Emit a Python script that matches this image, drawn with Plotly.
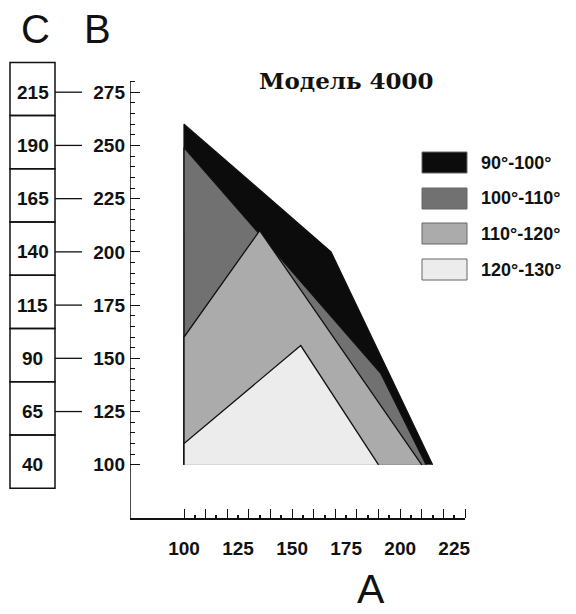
import plotly.graph_objects as go

# ---- data ----
series_names = ["90°-100°", "100°-110°", "110°-120°", "120°-130°"]
series_colors = ["#0c0c0c", "#717171", "#ababab", "#ececec"]
a_black = [100, 100, 168, 215]
b_black = [100, 260, 200, 100]
a_dark = [100, 100, 191, 212]
b_dark = [100, 249, 143, 100]
a_light = [100, 100, 135, 210]
b_light = [100, 160, 210, 100]
a_lightest = [100, 100, 154, 190]
b_lightest = [100, 110, 156, 100]

b_ticks = [100, 125, 150, 175, 200, 225, 250, 275]
c_ticks = [40, 65, 90, 115, 140, 165, 190, 215]
a_ticks = [100, 125, 150, 175, 200, 225]

title_text = "Модель 4000"

OFF = 8  # page body margin
W, H = 576 - OFF, 614 - OFF
ML, MT = 130 - OFF, 56 - OFF
PW = 465 - 130
PH = 518 - 56
MR = W - ML - PW
MB = H - MT - PH
X_RANGE = [75, 230]
Y_RANGE = [75, 292]


def px_x(px):
    # px: screen pixel of the reference
    return (px - OFF - ML) / PW


def px_y(py):
    return (MT + PH - (py - OFF)) / PH


fig = go.Figure()
polys = [(a_black, b_black), (a_dark, b_dark), (a_light, b_light), (a_lightest, b_lightest)]
for (a, b), name, col in zip(polys, series_names, series_colors):
    fig.add_trace(go.Scatter(
        x=a, y=b, mode="lines", fill="toself", fillcolor=col,
        line=dict(color="#111111", width=1.3), name=name, showlegend=False,
        hoverinfo="skip"))

# invisible trace on secondary x axis (for the small 5-unit ticks)
fig.add_trace(go.Scatter(x=[None], y=[None], xaxis="x2", showlegend=False))

tick_font = dict(family="Liberation Sans", size=19, color="#111111", weight="bold")

fig.update_layout(
    width=W, height=H,
    margin=dict(l=ML, r=MR, t=MT, b=MB),
    paper_bgcolor="white", plot_bgcolor="white",
    showlegend=False,
    xaxis=dict(
        range=X_RANGE, showgrid=False, zeroline=False,
        showline=True, linecolor="#111111", linewidth=1.5,
        tickmode="array", tickvals=a_ticks, ticks="", ticklabelstandoff=12,
        tickfont=tick_font,
        minor=dict(tickmode="array", tickvals=list(range(100, 231, 10)),
                   ticks="inside", ticklen=9, tickwidth=1.3, tickcolor="#111111"),
    ),
    xaxis2=dict(
        range=X_RANGE, overlaying="x", anchor="y", side="bottom",
        showgrid=False, zeroline=False, showline=False, showticklabels=False,
        tickmode="array", tickvals=list(range(105, 231, 10)),
        ticks="inside", ticklen=3, tickwidth=1.8, tickcolor="#111111",
    ),
    yaxis=dict(
        range=Y_RANGE, showgrid=False, zeroline=False, showline=False,
        tickmode="array", tickvals=b_ticks, ticks="inside", ticklen=10,
        tickwidth=1.3, tickcolor="#111111", ticklabelstandoff=4,
        tickfont=tick_font,
        minor=dict(tickmode="array", tickvals=list(range(100, 281, 5)),
                   ticks="inside", ticklen=5, tickwidth=1.3, tickcolor="#111111"),
    ),
)

shapes = []
# vertical axis line from 75 to 280
shapes.append(dict(type="line", xref="x", yref="y", x0=75, x1=75, y0=75, y1=280,
                   line=dict(color="#111111", width=1.5)))
# C column boxes
box_x0, box_x1 = px_x(10), px_x(55)
edges = [b - 11 for b in b_ticks] + [b_ticks[-1] + 14]
for y0, y1 in zip(edges[:-1], edges[1:]):
    shapes.append(dict(type="rect", xref="paper", yref="y", x0=box_x0, x1=box_x1,
                       y0=y0, y1=y1, line=dict(color="#111111", width=1.5)))
# connectors between C and B
for b in b_ticks[1:]:
    shapes.append(dict(type="line", xref="paper", yref="y", x0=box_x1, x1=px_x(82),
                       y0=b, y1=b, line=dict(color="#111111", width=1.3)))

annotations = []
for b, c in zip(b_ticks, c_ticks):
    annotations.append(dict(xref="paper", yref="y", x=(box_x0 + box_x1) / 2, y=b,
                            text=str(c), showarrow=False, xanchor="center",
                            yanchor="middle", font=tick_font))

# manual legend
leg_tops = [152, 188, 223, 259]
for top, name, col in zip(leg_tops, series_names, series_colors):
    shapes.append(dict(type="rect", xref="paper", yref="paper",
                       x0=px_x(422), x1=px_x(467), y0=px_y(top + 21), y1=px_y(top),
                       fillcolor=col, line=dict(color="#666666", width=1)))
    annotations.append(dict(xref="paper", yref="paper", x=px_x(479), y=px_y(top + 10.5),
                            text=name, showarrow=False, xanchor="left", yanchor="middle",
                            font=dict(family="Liberation Sans", size=18, color="#111111",
                                      weight="bold")))

# axis letters
letter_font = dict(family="Liberation Sans", size=40, color="#111111")
annotations.append(dict(xref="paper", yref="paper", x=px_x(35), y=px_y(29), text="C",
                        showarrow=False, xanchor="center", yanchor="middle", font=letter_font))
annotations.append(dict(xref="paper", yref="paper", x=px_x(97), y=px_y(29), text="B",
                        showarrow=False, xanchor="center", yanchor="middle", font=letter_font))
annotations.append(dict(xref="paper", yref="paper", x=px_x(371), y=px_y(589), text="A",
                        showarrow=False, xanchor="center", yanchor="middle",
                        font=dict(family="Liberation Sans", size=41, color="#111111")))
# title
annotations.append(dict(xref="paper", yref="paper", x=px_x(346), y=px_y(80), text=title_text,
                        showarrow=False, xanchor="center", yanchor="middle",
                        font=dict(family="DejaVu Serif", size=23, color="#111111",
                                  weight="bold")))

fig.update_layout(shapes=shapes, annotations=annotations)
fig.write_html("out.html")
